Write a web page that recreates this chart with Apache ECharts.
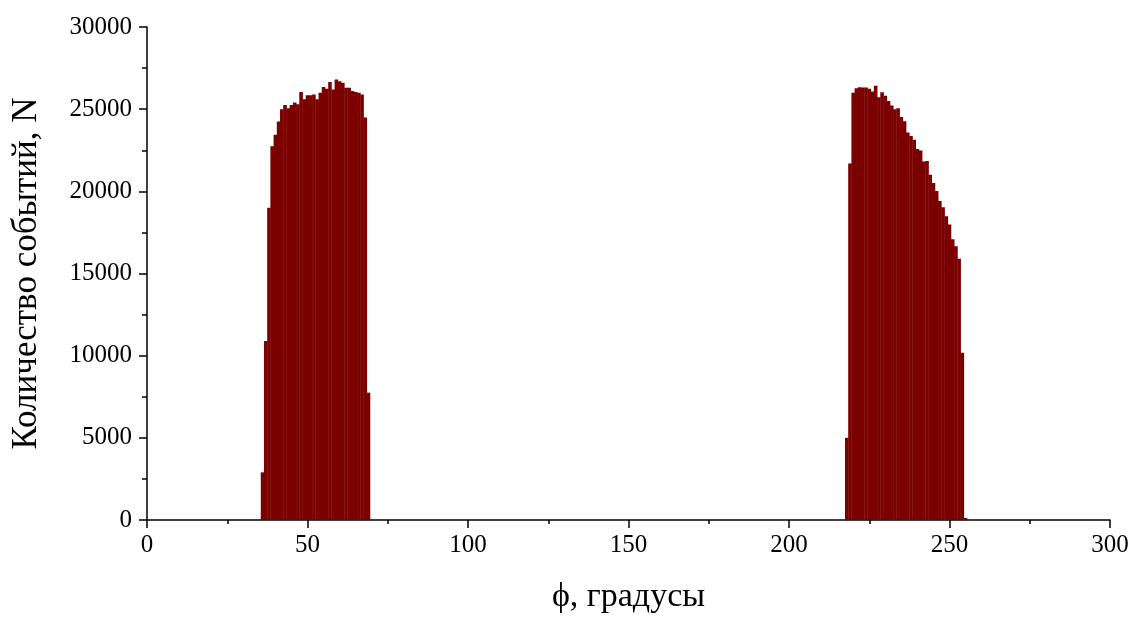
<!DOCTYPE html>
<html>
<head>
<meta charset="utf-8">
<script src="https://cdn.jsdelivr.net/npm/echarts@6/dist/echarts.min.js"></script>
<style>
  html, body { margin: 0; padding: 0; background: #ffffff; }
  #chart { width: 1133px; height: 619px; }
</style>
</head>
<body>
<div id="chart"></div>
<script>
// Angle bins (degrees) and event counts for the two populated regions
const phiLeft = [36, 37, 38, 39, 40, 41, 42, 43, 44, 45, 46, 47, 48, 49, 50, 51, 52,
                 53, 54, 55, 56, 57, 58, 59, 60, 61, 62, 63, 64, 65, 66, 67, 68, 69];
const countsLeft = [2900, 10900, 19000, 22750, 23450, 24250, 25000, 25250, 25050, 25250,
                    25400, 25300, 26050, 25600, 25850, 25850, 25900, 25600, 26000, 26350,
                    26250, 26650, 26200, 26800, 26700, 26600, 26300, 26300, 26100, 26050,
                    26000, 25900, 24500, 7750];

const phiRight = [218, 219, 220, 221, 222, 223, 224, 225, 226, 227, 228, 229, 230, 231,
                  232, 233, 234, 235, 236, 237, 238, 239, 240, 241, 242, 243, 244, 245,
                  246, 247, 248, 249, 250, 251, 252, 253, 254, 255];
const countsRight = [5000, 21700, 26000, 26280, 26340, 26320, 26320, 26240, 26070, 26420,
                     25730, 26030, 25810, 25500, 25220, 25000, 25050, 24520, 24270, 23580,
                     23360, 23140, 22580, 22480, 21820, 21840, 21010, 20510, 20020, 19410,
                     19030, 18480, 17980, 17090, 16660, 15890, 10180, 120];

// Axis ticks
const xTicks = { min: 0, max: 300, step: 50 };
const yTicks = { min: 0, max: 30000, step: 5000 };

const xAxisTitle = 'ϕ, градусы';
const yAxisTitle = 'Количество событий, N';

const pairs = [];
phiLeft.forEach((p, i) => pairs.push([p, countsLeft[i]]));
phiRight.forEach((p, i) => pairs.push([p, countsRight[i]]));

const FONT = '"Liberation Serif", "Times New Roman", "DejaVu Serif", serif';
const AXIS_COLOR = '#000000';
const BAR_COLOR = '#7b0000';

const chart = echarts.init(document.getElementById('chart'), null, { renderer: 'canvas' });

chart.setOption({
  backgroundColor: '#ffffff',
  animation: false,
  grid: { left: 147, right: 23, top: 27, bottom: 98, containLabel: false },
  xAxis: {
    type: 'value',
    min: xTicks.min,
    max: xTicks.max,
    interval: xTicks.step,
    name: xAxisTitle,
    nameLocation: 'middle',
    nameGap: 60,
    nameTextStyle: { fontFamily: FONT, fontSize: 34, color: '#000' },
    axisLine: { show: true, onZero: false, lineStyle: { color: AXIS_COLOR, width: 1.5 } },
    axisTick: { show: true, inside: false, length: 8, lineStyle: { color: AXIS_COLOR, width: 1.5 } },
    minorTick: { show: true, splitNumber: 2, length: 4, lineStyle: { color: AXIS_COLOR, width: 1.5 } },
    axisLabel: { fontFamily: FONT, fontSize: 25, color: '#000', margin: 13,
                 formatter: v => String(v) },
    splitLine: { show: false }
  },
  yAxis: {
    type: 'value',
    min: yTicks.min,
    max: yTicks.max,
    interval: yTicks.step,
    name: yAxisTitle,
    nameLocation: 'middle',
    nameGap: 103,
    nameRotate: 90,
    nameTextStyle: { fontFamily: FONT, fontSize: 35, color: '#000' },
    axisLine: { show: true, lineStyle: { color: AXIS_COLOR, width: 1.5 } },
    axisTick: { show: true, inside: false, length: 8, lineStyle: { color: AXIS_COLOR, width: 1.5 } },
    minorTick: { show: true, splitNumber: 2, length: 5, lineStyle: { color: AXIS_COLOR, width: 1.5 } },
    axisLabel: { fontFamily: FONT, fontSize: 25, color: '#000', margin: 15,
                 formatter: v => String(v) },
    splitLine: { show: false }
  },
  series: [{
    type: 'bar',
    data: pairs,
    barWidth: 3.6,
    itemStyle: { color: BAR_COLOR },
    emphasis: { disabled: true }
  }]
});
</script>
</body>
</html>
